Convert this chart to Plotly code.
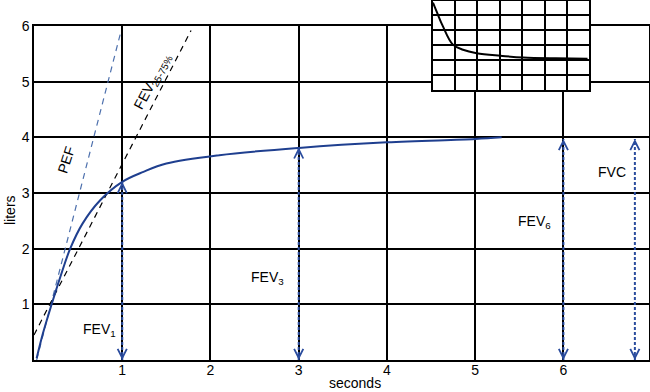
import plotly.graph_objects as go

# Main volume-time curve (seconds, liters)
curve_t = [0.03, 0.1, 0.2, 0.3, 0.41, 0.55, 0.75, 1.0, 1.24, 1.5, 2.1, 3.0, 4.0, 5.0, 5.3]
curve_v = [0.03, 0.47, 1.0, 1.5, 2.0, 2.45, 2.87, 3.2, 3.38, 3.53, 3.68, 3.81, 3.91, 3.97, 4.0]

# Tangent lines
pef_t = [0.03, 0.98]
pef_v = [0.0, 5.87]
fef_t = [0.0, 1.78]
fef_v = [0.45, 5.92]

# Measurement arrows
arrow_t = [1.0, 3.0, 6.0, 6.81]
arrow_top = [3.2, 3.82, 3.97, 3.97]

# Labels
label_text = ["FEV<sub>1</sub>", "FEV<sub>3</sub>", "FEV<sub>6</sub>", "FVC"]
label_t = [0.74, 2.65, 5.67, 6.55]
label_v = [0.54, 1.47, 2.48, 3.38]

# Inset flow curve
inset_x = [0.02, 0.2, 0.46, 0.91, 1.36, 1.97, 3.02, 4.05, 5.5, 6.92]
inset_y = [5.86, 5.2, 4.28, 3.04, 2.70, 2.47, 2.30, 2.18, 2.12, 2.09]

xticks = [1, 2, 3, 4, 5, 6]
yticks = [1, 2, 3, 4, 5, 6]

blue = "#1f3f8f"
dot_blue = "#2a4c9e"
light_blue = "#4d70ad"
font = dict(family="Liberation Sans, Arial, sans-serif", size=14, color="black")

fig = go.Figure()
fig.add_trace(go.Scatter(x=pef_t, y=pef_v, mode="lines",
                         line=dict(color=light_blue, width=1.2, dash="6px,5px"),
                         hoverinfo="skip", showlegend=False))
fig.add_trace(go.Scatter(x=fef_t, y=fef_v, mode="lines",
                         line=dict(color="black", width=1.2, dash="6px,5px"),
                         hoverinfo="skip", showlegend=False))
fig.add_trace(go.Scatter(x=curve_t, y=curve_v, mode="lines", line_shape="spline",
                         line=dict(color=blue, width=2),
                         hoverinfo="skip", showlegend=False))
for t, top in zip(arrow_t, arrow_top):
    fig.add_trace(go.Scatter(x=[t, t], y=[0, top], mode="lines",
                             line=dict(color=dot_blue, width=2, dash="3px,2px"),
                             hoverinfo="skip", showlegend=False))

annotations = []
for t, top in zip(arrow_t, arrow_top):
    annotations.append(dict(x=t, y=top, xref="x", yref="y", ax=0, ay=6, text="",
                            showarrow=True, arrowhead=5, arrowsize=1.2, arrowwidth=1.5,
                            arrowcolor=dot_blue))
    annotations.append(dict(x=t, y=0, xref="x", yref="y", ax=0, ay=-6, text="",
                            showarrow=True, arrowhead=5, arrowsize=1.2, arrowwidth=1.5,
                            arrowcolor=dot_blue))
for txt, t, v in zip(label_text, label_t, label_v):
    annotations.append(dict(x=t, y=v, xref="x", yref="y", text=txt, showarrow=False,
                            font=font, xanchor="center", yanchor="middle"))
annotations.append(dict(x=0.36, y=3.6, xref="x", yref="y", text="PEF", showarrow=False,
                        font=font, textangle=-72, xanchor="center", yanchor="middle"))
annotations.append(dict(x=1.34, y=5.0, xref="x", yref="y", text="FEV<sub>25-75%</sub>",
                        showarrow=False, font=font, textangle=-62,
                        xanchor="center", yanchor="middle"))
# Axis titles
annotations.append(dict(x=(355 - 34) / 615, y=-23 / 360, xref="paper", yref="paper",
                        text="seconds", showarrow=False, font=font,
                        xanchor="center", yanchor="middle"))
annotations.append(dict(x=-24 / 615, y=(360 - 210) / 360, xref="paper", yref="paper",
                        text="liters", showarrow=False, font=font, textangle=-90,
                        xanchor="center", yanchor="middle"))

fig.add_trace(go.Scatter(x=inset_x, y=inset_y, mode="lines", line_shape="spline",
                         line=dict(color="black", width=2), xaxis="x2", yaxis="y2",
                         hoverinfo="skip", showlegend=False))

axis_common = dict(showgrid=True, gridcolor="black", gridwidth=1.5, showline=True,
                   linecolor="black", linewidth=1.5, mirror=True, zeroline=False,
                   ticks="", automargin=False)

fig.update_layout(
    width=650, height=392, autosize=False,
    margin=dict(l=34, r=1, t=0, b=32, autoexpand=False),
    paper_bgcolor="white", plot_bgcolor="white",
    font=font,
    xaxis=dict(range=[0, 6.97], tickvals=xticks, domain=[0, 1],
               tickfont=font, ticklabelstandoff=-4, **axis_common),
    yaxis=dict(range=[0, 6], tickvals=yticks, domain=[0, 334 / 360],
               tickfont=font, **axis_common),
    xaxis2=dict(range=[0, 7], dtick=1, showticklabels=False,
                domain=[0.648, 0.903], anchor="y2", **axis_common),
    yaxis2=dict(range=[0, 6], dtick=1, showticklabels=False,
                domain=[0.75, 0.9986], anchor="x2", **axis_common),
    annotations=annotations,
)

fig.write_html("out.html", config={"displayModeBar": False},
               post_script="document.body.style.margin='0';")
